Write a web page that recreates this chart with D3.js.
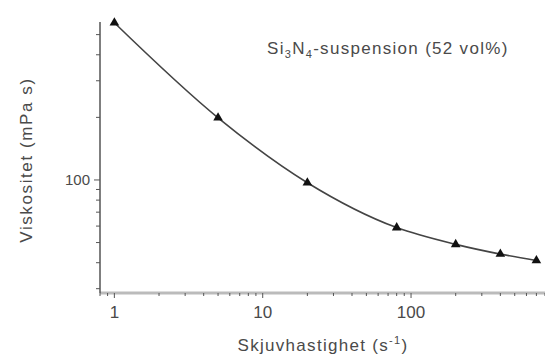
<!DOCTYPE html>
<html>
<head>
<meta charset="utf-8">
<script src="https://cdn.jsdelivr.net/npm/d3@7"></script>
<style>
  body { margin: 0; background: #fff; }
  text { font-family: "Liberation Sans", Arial, sans-serif; fill: #4a4a4a; }
</style>
</head>
<body>
<div id="chart"></div>
<script>
// Viscosity vs. shear rate for a Si3N4 suspension, log-log axes.
const shearRate = [1, 5, 20, 80, 200, 400, 700];
const viscosity = [570, 199, 97, 59, 49, 44, 41];
const xDomain = [0.8, 800];
const yDomain = [28.6, 575];
const xMajor = [1, 10, 100];
const yMajor = [100];

const width = 545, height = 356;
const m = { top: 22, right: 0, bottom: 63, left: 100 };

const svg = d3.select("#chart").append("svg")
  .attr("width", width).attr("height", height);

const x = d3.scaleLog().domain(xDomain).range([m.left, width - m.right]);
const y = d3.scaleLog().domain(yDomain).range([height - m.bottom, m.top]);

// minor ticks: every 1..9 multiple inside the domain
const minor = (s) => s.ticks().filter((d) => {
  const [a, b] = s.domain();
  return d >= a && d <= b;
});

const xAxisY = height - m.bottom;

// x axis (light grey band)
svg.append("line")
  .attr("x1", m.left).attr("x2", width).attr("y1", xAxisY).attr("y2", xAxisY)
  .attr("stroke", "#bbb").attr("stroke-width", 3);
svg.append("g").selectAll("line").data(minor(x)).join("line")
  .attr("x1", (d) => x(d)).attr("x2", (d) => x(d))
  .attr("y1", xAxisY).attr("y2", (d) => xAxisY + (xMajor.includes(d) ? 5 : 3))
  .attr("stroke", "#555").attr("stroke-width", 1);
svg.append("g").selectAll("text").data(xMajor).join("text")
  .attr("x", (d) => x(d)).attr("y", xAxisY + 25)
  .attr("text-anchor", "middle").attr("font-size", 17)
  .text((d) => d);

// y axis
svg.append("line")
  .attr("x1", m.left).attr("x2", m.left).attr("y1", m.top).attr("y2", xAxisY)
  .attr("stroke", "#555").attr("stroke-width", 1.5);
svg.append("g").selectAll("line").data(minor(y)).join("line")
  .attr("x1", m.left).attr("x2", (d) => m.left - (yMajor.includes(d) ? 6 : 4))
  .attr("y1", (d) => y(d)).attr("y2", (d) => y(d))
  .attr("stroke", "#555").attr("stroke-width", 1);
svg.append("g").selectAll("text").data(yMajor).join("text")
  .attr("x", m.left - 10).attr("y", (d) => y(d)).attr("dy", "0.35em")
  .attr("text-anchor", "end").attr("font-size", 15)
  .text((d) => d);

// curve through the measured points
const pts = shearRate.map((s, i) => [s, viscosity[i]]);
svg.append("path").datum(pts)
  .attr("fill", "none").attr("stroke", "#444").attr("stroke-width", 1.6)
  .attr("d", d3.line().x((d) => x(d[0])).y((d) => y(d[1])).curve(d3.curveMonotoneX));

svg.append("g").selectAll("path").data(pts).join("path")
  .attr("transform", (d) => `translate(${x(d[0])},${y(d[1])})`)
  .attr("d", d3.symbol(d3.symbolTriangle, 40))
  .attr("fill", "#111");

// axis titles
svg.append("text")
  .attr("transform", `translate(32,160) rotate(-90)`)
  .attr("text-anchor", "middle").attr("font-size", 17).attr("letter-spacing", 1.6)
  .text("Viskositet (mPa s)");

const xt = svg.append("text")
  .attr("x", 323).attr("y", 351)
  .attr("text-anchor", "middle").attr("font-size", 17).attr("letter-spacing", 1.3);
xt.append("tspan").text("Skjuvhastighet (s");
xt.append("tspan").attr("dy", -7).attr("font-size", 11).text("-1");
xt.append("tspan").attr("dy", 7).text(")");

// annotation
const ann = svg.append("text")
  .attr("x", 267).attr("y", 54).attr("font-size", 17).attr("letter-spacing", 1.3);
ann.append("tspan").text("Si");
ann.append("tspan").attr("dy", 4).attr("font-size", 11).text("3");
ann.append("tspan").attr("dy", -4).text("N");
ann.append("tspan").attr("dy", 4).attr("font-size", 11).text("4");
ann.append("tspan").attr("dy", -4).text("-suspension (52 vol%)");
</script>
</body>
</html>
